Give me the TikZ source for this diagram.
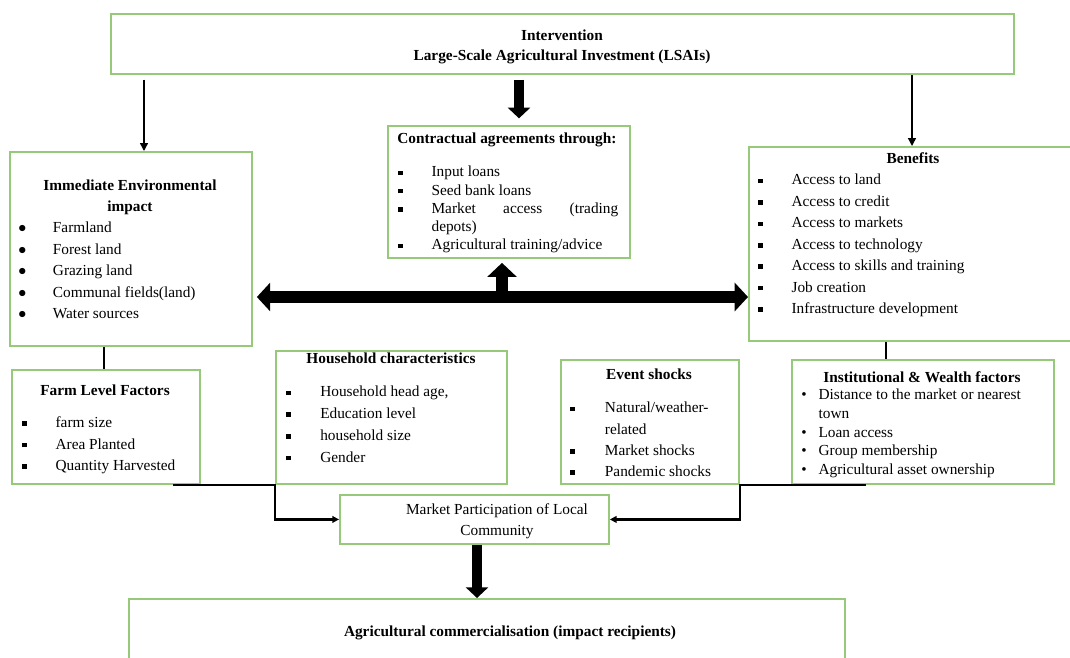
\documentclass[tikz,border=0pt]{standalone}
\usepackage{fontspec}
\setmainfont{Liberation Serif}
\usetikzlibrary{arrows.meta,calc,positioning}
\definecolor{leaf}{HTML}{96C97A}

\newcommand{\fs}[1]{\fontsize{11.5}{#1}\selectfont}
\newcommand{\sqb}[1]{\makebox[#1][l]{\rule[.25ex]{3.4pt}{3.4pt}}}
\newcommand{\rdb}[1]{\makebox[#1][l]{$\bullet$}}
\newcommand{\dotb}[1]{\makebox[#1][l]{\textbullet}}

\tikzset{
  box/.style={draw=leaf,line width=1.4pt,inner sep=0pt,anchor=north west},
  head/.style={font=\bfseries\fs{15.75pt},align=center,inner sep=0pt},
  list/.style={font=\fs{#1},align=left,anchor=north west,inner sep=0pt},
  pointer/.style={line width=1pt,-{Triangle[width=6pt,length=6pt]}},
  link/.style={line width=1.6pt},
  blockdown/.style={line width=7pt,-{Triangle[width=16.5pt,length=8pt]}},
  blockup/.style={line width=9.5pt,-{Triangle[width=21.5pt,length=10.5pt]}},
  blockboth/.style={line width=9pt,
    {Triangle[width=21pt,length=10pt]}-{Triangle[width=21pt,length=10pt]}}
}

\begin{document}
\begin{tikzpicture}[x=0.75pt,y=-0.75pt]
  \useasboundingbox (0,0) rectangle (1070,657);

  % boxes
  \node[box,minimum width=677.25pt,minimum height=45pt] (interv) at (110,13) {};
  \node[box,minimum width=181.5pt,minimum height=145.5pt] (env) at (9,151) {};
  \node[box,minimum width=181.5pt,minimum height=99pt] (contr) at (387,125) {};
  \node[box,minimum width=244pt,minimum height=145.5pt] (ben) at (748,146) {};
  \node[box,minimum width=141pt,minimum height=85.5pt] (farm) at (11,369) {};
  \node[box,minimum width=173.25pt,minimum height=99.75pt] (house) at (275,350) {};
  \node[box,minimum width=133.5pt,minimum height=93pt] (event) at (560,359) {};
  \node[box,minimum width=196.5pt,minimum height=93pt] (inst) at (791,359) {};
  \node[box,minimum width=201.75pt,minimum height=36.75pt] (market) at (339,494) {};
  \node[box,minimum width=537pt,minimum height=55pt] (agri) at (128,598) {};

  % headings
  \node[head,font=\bfseries\fs{15pt}] (intervtxt) at (562,47)
    {Intervention\\Large-Scale Agricultural Investment (LSAIs)};
  \node[head] (envtitle) at (130,197) {Immediate Environmental\\impact};
  \node[head,anchor=west] (contrtitle) at (397,140) {Contractual agreements through:};
  \node[head] (bentitle) at (913,158) {Benefits};
  \node[head] (farmtitle) at (105,390.5) {Farm Level Factors};
  \node[head] (housetitle) at (391,358.5) {Household characteristics};
  \node[head] (eventtitle) at (649,374.5) {Event shocks};
  \node[head] (insttitle) at (922,377.5) {Institutional \& Wealth factors};
  \node[head,font=\fs{15.75pt}] (markettxt) at (497,521.5)
    {Market Participation of Local\\Community};
  \node[head] (agritxt) at (510,633) {Agricultural commercialisation (impact recipients)};

  % lists
  \node[list=16.1pt] (envlist) at (18,222)
    {\rdb{26pt}Farmland\\ \rdb{26pt}Forest land\\ \rdb{26pt}Grazing land\\
     \rdb{26pt}Communal fields(land)\\ \rdb{26pt}Water sources};
  \node[list=13.7pt] (contrlist) at (398,166)
    {\sqb{25pt}Input loans\\ \sqb{25pt}Seed bank loans\\
     \sqb{25pt}\makebox[140pt][s]{Market access (trading}\\
     \hspace*{25pt}depots)\\ \sqb{25pt}Agricultural training/advice};
  \node[list=16.1pt] (benlist) at (758,174)
    {\sqb{25pt}Access to land\\ \sqb{25pt}Access to credit\\
     \sqb{25pt}Access to markets\\ \sqb{25pt}Access to technology\\
     \sqb{25pt}Access to skills and training\\ \sqb{25pt}Job creation\\
     \sqb{25pt}Infrastructure development};
  \node[list=16.2pt] (farmlist) at (22,416.5)
    {\sqb{25pt}farm size\\ \sqb{25pt}Area Planted\\ \sqb{25pt}Quantity Harvested};
  \node[list=16.3pt] (houselist) at (286,386)
    {\sqb{25.5pt}Household head age,\\ \sqb{25.5pt}Education level\\
     \sqb{25.5pt}household size\\ \sqb{25.5pt}Gender};
  \node[list=15.9pt] (eventlist) at (570,402)
    {\sqb{26pt}Natural/weather-\\ \hspace*{26pt}related\\
     \sqb{26pt}Market shocks\\ \sqb{26pt}Pandemic shocks};
  \node[list=14pt] (instlist) at (801,389)
    {\dotb{13pt}Distance to the market or nearest\\ \hspace*{13pt}town\\
     \dotb{13pt}Loan access\\ \dotb{13pt}Group membership\\
     \dotb{13pt}Agricultural asset ownership};

  % connectors
  \coordinate (leftcol) at (144,0);
  \coordinate (rightcol) at (912,0);
  \coordinate (midcol) at (519,0);
  \coordinate (midrow) at (0,297);
  \coordinate (upfoot) at (502,297);
  \coordinate (envfoot) at (104,0);
  \coordinate (benfoot) at (886,0);
  \coordinate (farmout) at (173,0);
  \coordinate (instout) at (866,0);

  \draw[pointer,shorten <=3.5pt] (interv.south -| leftcol) -- (env.north -| leftcol);
  \draw[pointer] (interv.south -| rightcol) -- (ben.north -| rightcol);
  \draw[blockdown,shorten <=3.5pt,shorten >=5pt] (interv.south -| midcol) -- (contr.north -| midcol);
  \draw[blockboth,shorten <=3pt] (env.east |- midrow) -- (ben.west |- midrow);
  \draw[blockup,shorten >=3pt] (upfoot) -- (contr.south -| upfoot);
  \draw[link,line width=2.2pt] (env.south -| envfoot) -- (farm.north -| envfoot);
  \draw[link,line width=2.2pt] (ben.south -| benfoot) -- (inst.north -| benfoot);
  \draw[link,-{Triangle[width=5pt,length=5pt]}] (farm.south -| farmout) -- (house.south west) |- (market.west);
  \draw[link,-{Triangle[width=5pt,length=5pt]}] (inst.south -| instout) -- (event.south east) |- (market.east);
  \draw[blockdown] (market.south -| 477,0) -- (agri.north -| 477,0);
\end{tikzpicture}
\end{document}
